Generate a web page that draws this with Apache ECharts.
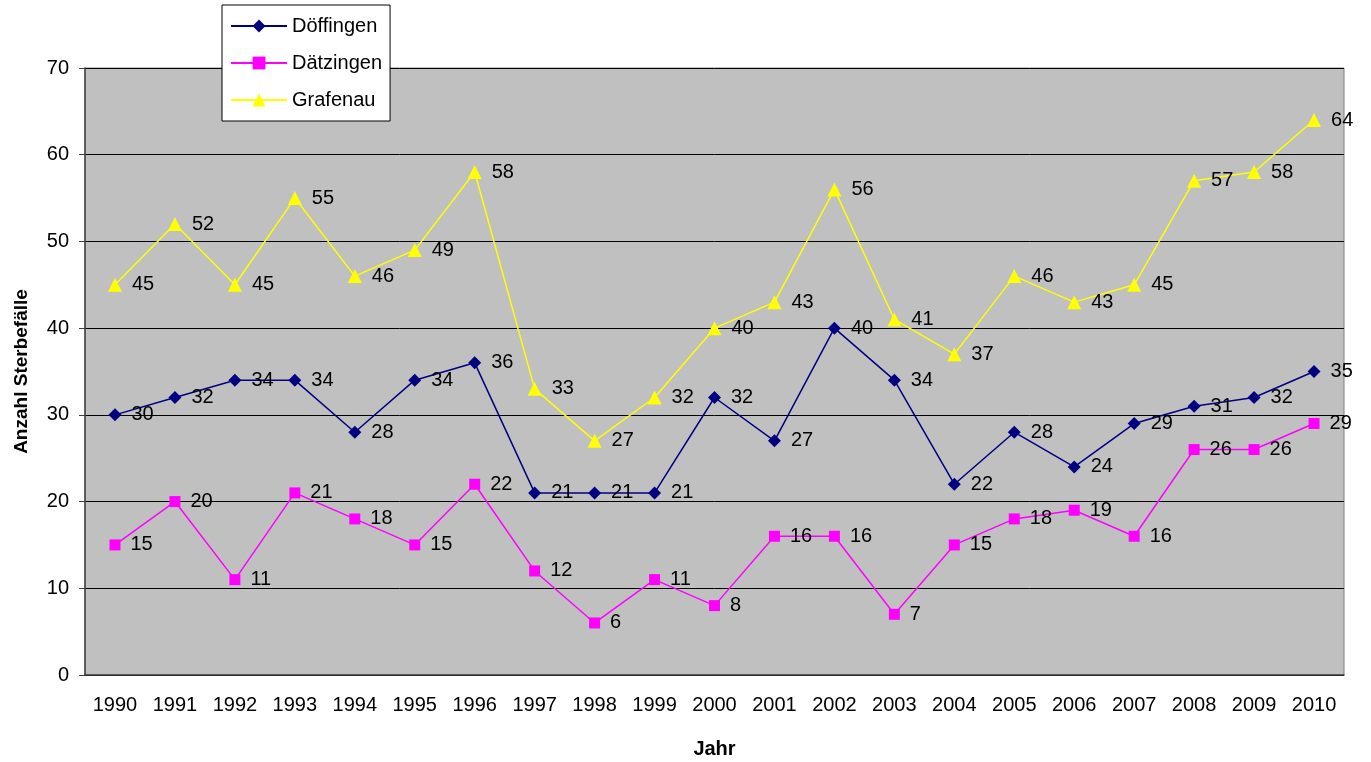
<!DOCTYPE html>
<html>
<head>
<meta charset="utf-8">
<script src="https://cdn.jsdelivr.net/npm/echarts@6/dist/echarts.min.js"></script>
<style>
  html, body { margin: 0; padding: 0; background: #fff; }
  #chart { width: 1371px; height: 762px; }
</style>
</head>
<body>
<div id="chart"></div>
<script>
// Jahre und Werte aus dem Diagramm
var years = ['1990', '1991', '1992', '1993', '1994', '1995', '1996', '1997', '1998', '1999', '2000',
  '2001', '2002', '2003', '2004', '2005', '2006', '2007', '2008', '2009', '2010']
var doeffingen = [30, 32, 34, 34, 28, 34, 36, 21, 21, 21, 32, 27, 40, 34, 22, 28, 24, 29, 31, 32, 35]
var daetzingen = [15, 20, 11, 21, 18, 15, 22, 12, 6, 11, 8, 16, 16, 7, 15, 18, 19, 16, 26, 26, 29]
var grafenau = [45, 52, 45, 55, 46, 49, 58, 33, 27, 32, 40, 43, 56, 41, 37, 46, 43, 45, 57, 58, 64]

var font = 'Liberation Sans, Arial, sans-serif'

function makeSeries (name, data, color, symbol, size) {
  return {
    name: name,
    type: 'line',
    data: data,
    symbol: symbol,
    symbolSize: size,
    lineStyle: { color: color, width: 1.5 },
    itemStyle: { color: color },
    label: {
      show: true,
      position: 'right',
      distance: 10,
      color: '#000',
      fontSize: 20,
      fontFamily: font
    }
  }
}

var myChart = echarts.init(document.getElementById('chart'))
myChart.setOption({
  animation: false,
  textStyle: { fontFamily: font },
  grid: {
    left: 85,
    right: 27,
    top: 68,
    bottom: 87,
    outerBoundsMode: 'none',
    containLabel: false,
    show: true,
    backgroundColor: '#c0c0c0',
    borderColor: '#808080',
    borderWidth: 1
  },
  legend: {
    orient: 'vertical',
    left: 222,
    top: 5,
    padding: [11, 8, 11, 8],
    itemGap: 17,
    itemWidth: 56,
    itemHeight: 16,
    backgroundColor: '#fff',
    borderColor: '#000',
    borderWidth: 1,
    textStyle: { fontSize: 20, color: '#000', fontFamily: font },
    data: ['Döffingen', 'Dätzingen', 'Grafenau']
  },
  xAxis: {
    type: 'category',
    data: years,
    name: 'Jahr',
    nameLocation: 'middle',
    nameGap: 64,
    nameTextStyle: { fontSize: 20, fontWeight: 'bold', color: '#000' },
    axisLine: { lineStyle: { color: '#404040', width: 1.5 } },
    axisTick: { length: 5, lineStyle: { color: '#404040' } },
    axisLabel: { fontSize: 20, color: '#000', margin: 20 }
  },
  yAxis: {
    type: 'value',
    min: 0,
    max: 70,
    interval: 10,
    name: 'Anzahl Sterbefälle',
    nameLocation: 'middle',
    nameGap: 54,
    nameTextStyle: { fontSize: 19, fontWeight: 'bold', color: '#000' },
    axisLine: { show: true, lineStyle: { color: '#404040', width: 1.5 } },
    axisTick: { show: true, length: 6, lineStyle: { color: '#404040' } },
    axisLabel: { fontSize: 20, color: '#000', margin: 16 },
    splitLine: { lineStyle: { color: '#000', width: 1 } }
  },
  series: [
    makeSeries('Döffingen', doeffingen, '#000080', 'diamond', 13),
    makeSeries('Dätzingen', daetzingen, '#ff00ff', 'rect', 11),
    makeSeries('Grafenau', grafenau, '#ffff00', 'triangle', 14)
  ]
})
</script>
</body>
</html>
